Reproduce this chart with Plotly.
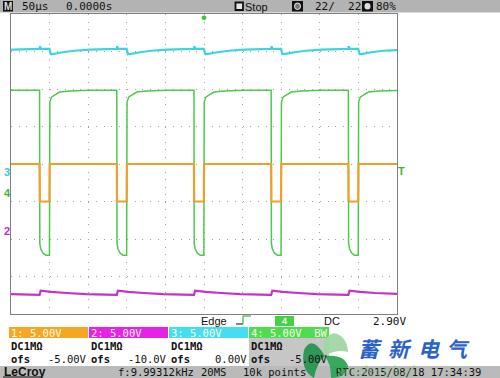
import plotly.graph_objects as go

# CH4 falling edges (µs from left edge of the 10-div / 500 µs screen)
fall_us = [-63, 37, 137, 237, 337, 437]

# one-period profiles (µs after each falling edge, level in divisions)
ch4_dt = [0, 0.3, 1.5, 4, 8, 12.8, 13.3, 15.6, 19.5, 26, 39, 65, 99]
ch4_div = [1.97, -2.12, -2.26, -2.37, -2.43, -2.43, 1.65, 1.79, 1.84, 1.92, 1.95, 1.97, 1.97]

ch1_dt = [0, 0.3, 12.8, 13.1, 99]
ch1_div = [0.0, -1.0, -1.0, 0.0, 0.0]

ch3_dt = [0, 0.6, 1.6, 12.8, 14.5, 17, 22, 30, 45, 65, 99]
ch3_div = [3.07, 3.14, 3.07, 3.07, 2.93, 2.93, 2.95, 2.98, 3.02, 3.05, 3.07]

ch2_dt = [0, 1.5, 5, 15, 35, 60, 99]
ch2_div = [-3.49, -3.38, -3.39, -3.41, -3.44, -3.47, -3.49]

ch_names = ["1: 5.00V", "2: 5.00V", "3: 5.00V", "4: 5.00V  BW"]
ch_coupling = ["DC1MΩ", "DC1MΩ", "DC1MΩ", "DC1MΩ"]
ch_offsets = ["-5.00V", "-10.0V", "0.00V", "-5.00V"]
ch_colors = ["#f5a623", "#e622e6", "#44def0", "#50dc50"]

header_timebase = "50µs"
header_delay = "0.0000s"
header_state = "Stop"
header_count = "22/  22"
header_pct = "80%"
trig_info = ["Edge", "DC", "2.90V"]
footer = ["f:9.99312kHz", "20MS", "10k points", "RTC:2015/08/18 17:34:39"]
watermark_cn = ["蓄", "新", "电", "气"]

# ---------------- geometry helpers (pixel -> paper) ----------------
W, H = 500, 378
L, R, T, B = 11, 397, 14, 314


def px(x):
    return (x - L) / (R - L)


def py(y):
    return (B - y) / (B - T)


MONO = "DejaVu Sans Mono"
SANS = "Liberation Sans"


def build(dt, lv):
    xs, ys = [], []
    for tf in fall_us:
        for d, v in zip(dt, lv):
            xs.append(tf + d)
            ys.append(v)
    return xs, ys


fig = go.Figure()
for (dt, lv), col, w in [((ch4_dt, ch4_div), "#4cc94c", 1.5),
                         ((ch1_dt, ch1_div), "#efa02a", 2.2),
                         ((ch3_dt, ch3_div), "#3cd4e0", 2.2),
                         ((ch2_dt, ch2_div), "#c234c8", 2.2)]:
    xs, ys = build(dt, lv)
    fig.add_trace(go.Scatter(x=xs, y=ys, mode="lines",
                             line=dict(color=col, width=w), hoverinfo="skip"))

shapes = []
ann = []


def rect(x0, y0, x1, y1, fill, line=None, lw=0):
    shapes.append(dict(type="rect", xref="paper", yref="paper",
                       x0=px(x0), x1=px(x1), y0=py(y1), y1=py(y0),
                       fillcolor=fill, line=dict(color=line or fill, width=lw),
                       layer="above"))


def line(x0, y0, x1, y1, color, w=1):
    shapes.append(dict(type="line", xref="paper", yref="paper",
                       x0=px(x0), x1=px(x1), y0=py(y0), y1=py(y1),
                       line=dict(color=color, width=w), layer="above"))


def path(pts, fill):
    d = ""
    for cmd, coords in pts:
        d += cmd + " " + " ".join(
            f"{px(coords[i]):.4f},{py(coords[i+1]):.4f}" for i in range(0, len(coords), 2)) + " "
    shapes.append(dict(type="path", xref="paper", yref="paper", path=d + "Z",
                       fillcolor=fill, line=dict(width=0), layer="above"))


def txt(x, y, s, color="black", size=10, anchor="left", family=MONO, bold=False,
        italic=False, opacity=1):
    ann.append(dict(x=px(x), y=py(y), xref="paper", yref="paper",
                    text=f"<b>{s}</b>" if bold else s, showarrow=False,
                    xanchor=anchor, yanchor="middle", opacity=opacity,
                    borderpad=0,
                    font=dict(family=family, size=size, color=color,
                              style="italic" if italic else "normal")))


# ---- header bar ----
rect(0, 0, 500, 12.5, "#b3b3b3")
rect(3, 1, 13, 11.5, "#111111")
txt(8, 6.5, "M", "#dddddd", 10, "center", SANS, True)
txt(21, 6.5, header_timebase, "#111", 11, "left", MONO)
txt(65, 6.5, header_delay, "#111", 11, "left", MONO)
rect(235.5, 2.5, 243, 10, "#e8e8e8", "#111", 1.8)
txt(244, 6.5, header_state, "#111", 11, "left", SANS)
rect(292, 1, 303, 11.5, "#111111")
shapes.append(dict(type="circle", xref="paper", yref="paper", x0=px(294.5), x1=px(300.5),
                   y0=py(9.5), y1=py(3), fillcolor="#777", line=dict(color="#eee", width=1),
                   layer="above"))
txt(314, 6.5, header_count, "#111", 11, "left", MONO)
rect(362, 1, 373, 11.5, "#111111")
shapes.append(dict(type="circle", xref="paper", yref="paper", x0=px(364.5), x1=px(370.5),
                   y0=py(9.5), y1=py(3), fillcolor="#ddd", line=dict(width=0), layer="above"))
txt(375, 6.5, header_pct, "#111", 11, "left", MONO)

# ---- trigger / channel markers ----
shapes.append(dict(type="circle", xref="paper", yref="paper", x0=px(201.5), x1=px(206.5),
                   y0=py(20), y1=py(15.5), fillcolor="#3cc83c", line=dict(width=0), layer="above"))
txt(7, 172, "3", "#3cc8dc", 11, "center", SANS, True)
txt(7, 193, "4", "#3cb83c", 11, "center", SANS, True)
txt(7, 231, "2", "#c030c0", 11, "center", SANS, True)
txt(401, 171, "T", "#3cb83c", 11, "center", SANS, True)

# ---- trigger info row ----
txt(200, 321, trig_info[0], "#111", 11, "left", SANS)
line(236, 324, 243, 324, "#333", 1.2)
line(243, 324, 243, 316, "#3cb83c", 1.2)
line(243, 316, 251, 316, "#3cb83c", 1.2)
shapes.append(dict(type="rect", xref="paper", yref="paper", x0=px(275), x1=px(294),
                   y0=py(326), y1=py(316), fillcolor="#46d046", line=dict(width=0),
                   layer="above"))
txt(284.5, 321, "4", "white", 9, "center", SANS, True)
txt(323, 321, trig_info[1], "#111", 11, "left", SANS)
txt(372, 321, trig_info[2], "#111", 11, "left", MONO)

# ---- channel panels ----
xs0 = [9, 89, 169, 249]
xs1 = [88, 168, 248, 329]
rect(249, 338, 329, 366, "#c6c6c6")
for i in range(4):
    rect(xs0[i], 327, xs1[i], 338, ch_colors[i])
    txt(xs0[i] + 1, 332.5, ch_names[i], "#fffbe6", 10.5, "left", MONO)
    txt(xs0[i] + 1, 346, ch_coupling[i], "#111", 10.5, "left", MONO, True)
    txt(xs0[i] + 1, 358.5, "ofs", "#111", 10.5, "left", MONO, True)
    txt(xs1[i], 358.5, ch_offsets[i], "#111", 10.5, "right", MONO)

# ---- footer ----
rect(0, 366, 500, 378, "#bababa")
txt(3, 371.5, "LeCroy", "#111", 12, "left", SANS, True)
line(3, 377, 42, 377, "#111", 1.2)
txt(195, 372, footer[0], "#111", 10.5, "right", MONO)
txt(200, 372, footer[1], "#111", 10.5, "left", MONO)
txt(242, 372, footer[2], "#111", 10.5, "left", MONO)
txt(335, 372, footer[3], "#111", 10.5, "left", MONO)

# ---- watermark ----
path([("M", [325, 356]), ("Q", [320, 337, 334, 333]), ("Q", [347, 336, 348, 352]),
      ("Q", [336, 349, 325, 356])], "rgba(160,215,165,0.95)")
path([("M", [325, 356]), ("Q", [312, 334, 304, 350]), ("Q", [300, 370, 314, 378]),
      ("Q", [317, 362, 325, 356])], "rgba(40,150,80,0.95)")
path([("M", [325, 356]), ("Q", [344, 354, 348, 366]), ("Q", [346, 378, 331, 378]),
      ("Q", [331, 364, 325, 356])], "rgba(45,165,85,0.95)")
for ch, xc in zip(watermark_cn, [370, 400, 429, 458]):
    txt(xc, 348, ch, "#2a62c8", 21, "center", "Noto Sans CJK SC", True, True)
txt(334, 370, "xinelectrical", "#7cc87c", 15, "left", SANS, False, True, 0.45)

fig.update_layout(
    width=W, height=H,
    margin=dict(l=L, r=W - R, t=T, b=H - B),
    paper_bgcolor="white", plot_bgcolor="white",
    showlegend=False, hovermode=False,
    shapes=shapes, annotations=ann,
    xaxis=dict(range=[0, 500], dtick=50, showgrid=True, gridcolor="#a0a0a0",
               griddash="1px,6.5px", gridwidth=1, zeroline=False, showticklabels=False,
               ticks="", showline=True, mirror=True, linecolor="#808080", linewidth=1,
               fixedrange=True),
    yaxis=dict(range=[-4, 4], dtick=1, showgrid=True, gridcolor="#a0a0a0",
               griddash="1px,6.72px", gridwidth=1, zeroline=False, showticklabels=False,
               ticks="", showline=True, mirror=True, linecolor="#808080", linewidth=1,
               fixedrange=True),
)

fig.write_html(
    "out.html",
    config={"displayModeBar": False, "staticPlot": True},
    post_script="document.body.style.margin='0';document.body.style.padding='0';"
                "document.body.style.overflow='hidden';",
)
